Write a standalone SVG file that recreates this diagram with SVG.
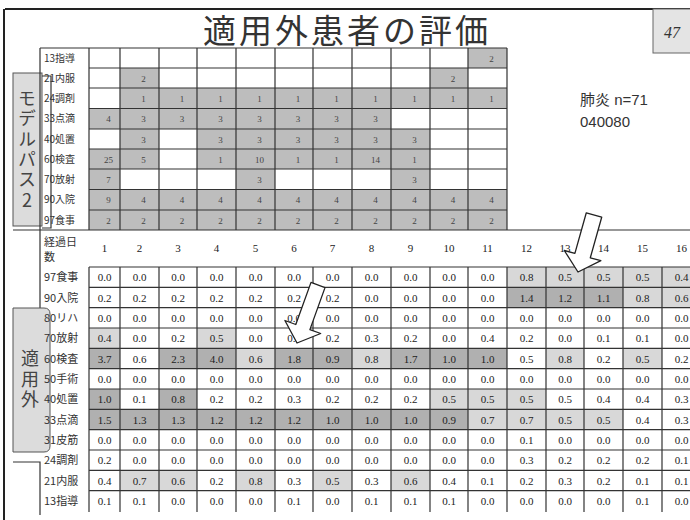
<svg xmlns="http://www.w3.org/2000/svg" width="690" height="520" viewBox="0 0 690 520">
<style>
.ln{stroke:#333;stroke-width:1.2;fill:none}
.fr{stroke:#222;stroke-width:2;fill:none}
.t{fill:#bdbdbd}.d{fill:#b0b0b0}.l{fill:#d8d8d8}
.s{font-family:"Liberation Serif",serif;font-size:9px;fill:#444;text-anchor:middle}
.n{font-family:"Liberation Serif",serif;font-size:11px;fill:#222;text-anchor:middle}
.lb{font-family:"Noto Sans CJK JP",sans-serif;font-size:10px;fill:#333}
.lb2{font-family:"Noto Sans CJK JP",sans-serif;font-size:11px;fill:#333}
.vt{font-family:"Noto Sans CJK JP",sans-serif;font-size:18px;fill:#444;writing-mode:vertical-rl;text-orientation:upright;letter-spacing:2.4px}
.box{fill:#dcdcdc;stroke:#555;stroke-width:1}
.arr{fill:#fff;stroke:#222;stroke-width:1.3;stroke-linejoin:round}
</style>
<rect width="690" height="520" fill="#fff"/>
<g id="frame">
<path class="fr" d="M5,9 H690 M4,9 V520"/>
<rect x="653" y="9" width="40" height="44" fill="#e4e4e4" stroke="#666" stroke-width="1"/>
<text x="672" y="38" font-family="Liberation Serif,serif" font-style="italic" font-size="16" fill="#333" text-anchor="middle">47</text>
<text x="347" y="43" font-family="Noto Sans CJK JP,sans-serif" font-size="33" letter-spacing="3" fill="#333" text-anchor="middle">適用外患者の評価</text>
<text x="580" y="105" font-family="Liberation Sans,Noto Sans CJK JP,sans-serif" font-size="15" fill="#333">肺炎 n=71</text>
<text x="580" y="127" font-family="Liberation Sans,sans-serif" font-size="15" fill="#333">040080</text>
</g>
<g id="model-path">
<rect class="box" x="13" y="73" width="29" height="153"/>
<path class="ln" d="M42,76 H51 V228 H42" stroke-width="1"/>
<text class="vt" x="27" y="89">モデルパス2</text>
<rect class="t" x="468" y="48" width="39" height="20"/>
<rect class="t" x="120" y="68" width="39" height="20"/><rect class="t" x="430" y="68" width="38" height="20"/>
<rect class="t" x="120" y="88" width="387" height="20.5"/>
<rect class="t" x="89" y="108.5" width="302" height="20.5"/>
<rect class="t" x="120" y="129" width="39" height="20"/><rect class="t" x="197" y="129" width="233" height="20"/>
<rect class="t" x="89" y="149" width="70" height="20"/><rect class="t" x="197" y="149" width="233" height="20"/>
<rect class="t" x="89" y="169" width="31" height="20.5"/><rect class="t" x="236" y="169" width="39" height="20.5"/><rect class="t" x="391" y="169" width="39" height="20.5"/>
<rect class="t" x="89" y="189.5" width="418" height="40.5"/>
<path class="ln" d="M40,48 H507 M89,68 H507 M89,88 H507 M89,108.5 H507 M89,129 H507 M89,149 H507 M89,169 H507 M89,189.5 H507 M89,210 H507 M13,230 H690 M40,48 V308 M89,48 V230 M120,48 V230 M159,48 V230 M197,48 V230 M236,48 V230 M275,48 V230 M313,48 V230 M352,48 V230 M391,48 V230 M430,48 V230 M468,48 V230 M507,48 V230"/>
<g class="lb"><text x="44" y="61.5">13指導</text><text x="44" y="81.5">21内服</text><text x="44" y="101.5">24調剤</text><text x="44" y="122">33点滴</text><text x="44" y="142.5">40処置</text><text x="44" y="162.5">60検査</text><text x="44" y="182.5">70放射</text><text x="44" y="203">90入院</text><text x="44" y="223.5">97食事</text></g>
<g class="s">
<text x="491.5" y="61.5">2</text>
<text x="143.5" y="81.5">2</text><text x="453" y="81.5">2</text>
<g transform="translate(0,101.5)"><text x="143.5">1</text><text x="182">1</text><text x="220.5">1</text><text x="259.5">1</text><text x="298">1</text><text x="336.5">1</text><text x="375.5">1</text><text x="414.5">1</text><text x="453">1</text><text x="491.5">1</text></g>
<g transform="translate(0,122)"><text x="108.5">4</text><text x="143.5">3</text><text x="182">3</text><text x="220.5">3</text><text x="259.5">3</text><text x="298">3</text><text x="336.5">3</text><text x="375.5">3</text></g>
<g transform="translate(0,142.5)"><text x="143.5">3</text><text x="220.5">3</text><text x="259.5">3</text><text x="298">3</text><text x="336.5">3</text><text x="375.5">3</text><text x="414.5">3</text></g>
<g transform="translate(0,162.5)"><text x="108.5">25</text><text x="143.5">5</text><text x="220.5">1</text><text x="259.5">10</text><text x="298">1</text><text x="336.5">1</text><text x="375.5">14</text><text x="414.5">1</text></g>
<g transform="translate(0,182.5)"><text x="108.5">7</text><text x="259.5">3</text><text x="414.5">3</text></g>
<g transform="translate(0,203)"><text x="108.5">9</text><text x="143.5">4</text><text x="182">4</text><text x="220.5">4</text><text x="259.5">4</text><text x="298">4</text><text x="336.5">4</text><text x="375.5">4</text><text x="414.5">4</text><text x="453">4</text><text x="491.5">4</text></g>
<g transform="translate(0,223.5)"><text x="108.5">2</text><text x="143.5">2</text><text x="182">2</text><text x="220.5">2</text><text x="259.5">2</text><text x="298">2</text><text x="336.5">2</text><text x="375.5">2</text><text x="414.5">2</text><text x="453">2</text><text x="491.5">2</text></g>
</g>
</g>
<g id="evaluation">
<path class="box" d="M13,308 H44 Q50,308 50,314 V446 Q50,452 44,452 H13 Z"/>
<text class="vt" x="30" y="349.5">適用外</text>
<path class="ln" d="M13,462 H40 V515"/>
<rect class="l" x="507" y="267" width="183" height="20.3"/>
<rect class="d" x="507" y="287.3" width="116" height="20.4"/><rect class="l" x="623" y="287.3" width="67" height="20.4"/>
<rect class="l" x="89" y="328" width="31" height="20.3"/><rect class="l" x="197" y="328" width="39" height="20.3"/>
<rect class="d" x="89" y="348.3" width="31" height="20.4"/><rect class="d" x="159" y="348.3" width="77" height="20.4"/><rect class="l" x="236" y="348.3" width="39" height="20.4"/><rect class="d" x="275" y="348.3" width="77" height="20.4"/><rect class="l" x="352" y="348.3" width="39" height="20.4"/><rect class="d" x="391" y="348.3" width="116" height="20.4"/><rect class="l" x="546" y="348.3" width="38" height="20.4"/><rect class="l" x="623" y="348.3" width="39" height="20.4"/>
<rect class="d" x="89" y="389" width="31" height="20.3"/><rect class="d" x="159" y="389" width="38" height="20.3"/><rect class="l" x="430" y="389" width="116" height="20.3"/>
<rect class="d" x="89" y="409.3" width="379" height="20.4"/><rect class="l" x="468" y="409.3" width="155" height="20.4"/>
<rect class="l" x="120" y="470.3" width="77" height="20.4"/><rect class="l" x="236" y="470.3" width="39" height="20.4"/><rect class="l" x="313" y="470.3" width="39" height="20.4"/><rect class="l" x="391" y="470.3" width="39" height="20.4"/>
<path class="ln" d="M89,267 H690 M89,287.3 H690 M89,307.7 H690 M89,328 H690 M89,348.3 H690 M89,368.7 H690 M89,389 H690 M89,409.3 H690 M89,429.7 H690 M89,450 H690 M89,470.3 H690 M89,490.7 H690 M89,267 V512 M120,267 V512 M159,267 V512 M197,267 V512 M236,267 V512 M275,267 V512 M313,267 V512 M352,267 V512 M391,267 V512 M430,267 V512 M468,267 V512 M507,267 V512 M546,267 V512 M584,267 V512 M623,267 V512 M662,267 V512"/>
<g class="lb2"><text x="44" y="246">経過日</text><text x="44" y="261">数</text><text x="44" y="281">97食事</text><text x="44" y="301.5">90入院</text><text x="44" y="322">80リハ</text><text x="44" y="342">70放射</text><text x="44" y="362.5">60検査</text><text x="44" y="383">50手術</text><text x="44" y="403">40処置</text><text x="44" y="423.5">33点滴</text><text x="44" y="444">31皮筋</text><text x="44" y="464">24調剤</text><text x="44" y="484.5">21内服</text><text x="44" y="505">13指導</text></g>
<g class="n">
<g transform="translate(0,252)"><text x="104.5">1</text><text x="139.5">2</text><text x="178">3</text><text x="216.5">4</text><text x="255.5">5</text><text x="294">6</text><text x="332.5">7</text><text x="371.5">8</text><text x="410.5">9</text><text x="449">10</text><text x="487.5">11</text><text x="526.5">12</text><text x="565">13</text><text x="603.5">14</text><text x="642.5">15</text><text x="681.5">16</text></g>
<g transform="translate(0,281)"><text x="104.5">0.0</text><text x="139.5">0.0</text><text x="178">0.0</text><text x="216.5">0.0</text><text x="255.5">0.0</text><text x="294">0.0</text><text x="332.5">0.0</text><text x="371.5">0.0</text><text x="410.5">0.0</text><text x="449">0.0</text><text x="487.5">0.0</text><text x="526.5">0.8</text><text x="565">0.5</text><text x="603.5">0.5</text><text x="642.5">0.5</text><text x="681.5">0.4</text></g>
<g transform="translate(0,301.5)"><text x="104.5">0.2</text><text x="139.5">0.2</text><text x="178">0.2</text><text x="216.5">0.2</text><text x="255.5">0.2</text><text x="294">0.2</text><text x="332.5">0.2</text><text x="371.5">0.0</text><text x="410.5">0.0</text><text x="449">0.0</text><text x="487.5">0.0</text><text x="526.5">1.4</text><text x="565">1.2</text><text x="603.5">1.1</text><text x="642.5">0.8</text><text x="681.5">0.6</text></g>
<g transform="translate(0,322)"><text x="104.5">0.0</text><text x="139.5">0.0</text><text x="178">0.0</text><text x="216.5">0.0</text><text x="255.5">0.0</text><text x="294">0.0</text><text x="332.5">0.0</text><text x="371.5">0.0</text><text x="410.5">0.0</text><text x="449">0.0</text><text x="487.5">0.0</text><text x="526.5">0.0</text><text x="565">0.0</text><text x="603.5">0.0</text><text x="642.5">0.0</text><text x="681.5">0.0</text></g>
<g transform="translate(0,342)"><text x="104.5">0.4</text><text x="139.5">0.0</text><text x="178">0.2</text><text x="216.5">0.5</text><text x="255.5">0.0</text><text x="294">0.2</text><text x="332.5">0.2</text><text x="371.5">0.3</text><text x="410.5">0.2</text><text x="449">0.0</text><text x="487.5">0.4</text><text x="526.5">0.2</text><text x="565">0.0</text><text x="603.5">0.1</text><text x="642.5">0.1</text><text x="681.5">0.0</text></g>
<g transform="translate(0,362.5)"><text x="104.5">3.7</text><text x="139.5">0.6</text><text x="178">2.3</text><text x="216.5">4.0</text><text x="255.5">0.6</text><text x="294">1.8</text><text x="332.5">0.9</text><text x="371.5">0.8</text><text x="410.5">1.7</text><text x="449">1.0</text><text x="487.5">1.0</text><text x="526.5">0.5</text><text x="565">0.8</text><text x="603.5">0.2</text><text x="642.5">0.5</text><text x="681.5">0.2</text></g>
<g transform="translate(0,383)"><text x="104.5">0.0</text><text x="139.5">0.0</text><text x="178">0.0</text><text x="216.5">0.0</text><text x="255.5">0.0</text><text x="294">0.0</text><text x="332.5">0.0</text><text x="371.5">0.0</text><text x="410.5">0.0</text><text x="449">0.0</text><text x="487.5">0.0</text><text x="526.5">0.0</text><text x="565">0.0</text><text x="603.5">0.0</text><text x="642.5">0.0</text><text x="681.5">0.0</text></g>
<g transform="translate(0,403)"><text x="104.5">1.0</text><text x="139.5">0.1</text><text x="178">0.8</text><text x="216.5">0.2</text><text x="255.5">0.2</text><text x="294">0.3</text><text x="332.5">0.2</text><text x="371.5">0.2</text><text x="410.5">0.2</text><text x="449">0.5</text><text x="487.5">0.5</text><text x="526.5">0.5</text><text x="565">0.5</text><text x="603.5">0.4</text><text x="642.5">0.4</text><text x="681.5">0.3</text></g>
<g transform="translate(0,423.5)"><text x="104.5">1.5</text><text x="139.5">1.3</text><text x="178">1.3</text><text x="216.5">1.2</text><text x="255.5">1.2</text><text x="294">1.2</text><text x="332.5">1.0</text><text x="371.5">1.0</text><text x="410.5">1.0</text><text x="449">0.9</text><text x="487.5">0.7</text><text x="526.5">0.7</text><text x="565">0.5</text><text x="603.5">0.5</text><text x="642.5">0.4</text><text x="681.5">0.3</text></g>
<g transform="translate(0,444)"><text x="104.5">0.0</text><text x="139.5">0.0</text><text x="178">0.0</text><text x="216.5">0.0</text><text x="255.5">0.0</text><text x="294">0.0</text><text x="332.5">0.0</text><text x="371.5">0.0</text><text x="410.5">0.0</text><text x="449">0.0</text><text x="487.5">0.0</text><text x="526.5">0.1</text><text x="565">0.0</text><text x="603.5">0.0</text><text x="642.5">0.0</text><text x="681.5">0.0</text></g>
<g transform="translate(0,464)"><text x="104.5">0.2</text><text x="139.5">0.0</text><text x="178">0.0</text><text x="216.5">0.0</text><text x="255.5">0.0</text><text x="294">0.0</text><text x="332.5">0.0</text><text x="371.5">0.0</text><text x="410.5">0.0</text><text x="449">0.0</text><text x="487.5">0.0</text><text x="526.5">0.3</text><text x="565">0.2</text><text x="603.5">0.2</text><text x="642.5">0.2</text><text x="681.5">0.1</text></g>
<g transform="translate(0,484.5)"><text x="104.5">0.4</text><text x="139.5">0.7</text><text x="178">0.6</text><text x="216.5">0.2</text><text x="255.5">0.8</text><text x="294">0.3</text><text x="332.5">0.5</text><text x="371.5">0.3</text><text x="410.5">0.6</text><text x="449">0.4</text><text x="487.5">0.1</text><text x="526.5">0.2</text><text x="565">0.3</text><text x="603.5">0.2</text><text x="642.5">0.1</text><text x="681.5">0.1</text></g>
<g transform="translate(0,505)"><text x="104.5">0.1</text><text x="139.5">0.1</text><text x="178">0.0</text><text x="216.5">0.0</text><text x="255.5">0.0</text><text x="294">0.1</text><text x="332.5">0.0</text><text x="371.5">0.1</text><text x="410.5">0.1</text><text x="449">0.1</text><text x="487.5">0.0</text><text x="526.5">0.0</text><text x="565">0.0</text><text x="603.5">0.0</text><text x="642.5">0.1</text><text x="681.5">0.0</text></g>
</g>
</g>
<g id="arrows">
<polygon class="arr" points="311,282.4 295.8,324.5 284.9,320.5 297,343 320.7,333.5 309.9,329.6 325,287.6"/>
<polygon class="arr" points="586.3,212.8 574.9,253.4 564.3,250.5 578,272 600.9,260.7 590.3,257.8 601.7,217.2"/>
</g>
</svg>
